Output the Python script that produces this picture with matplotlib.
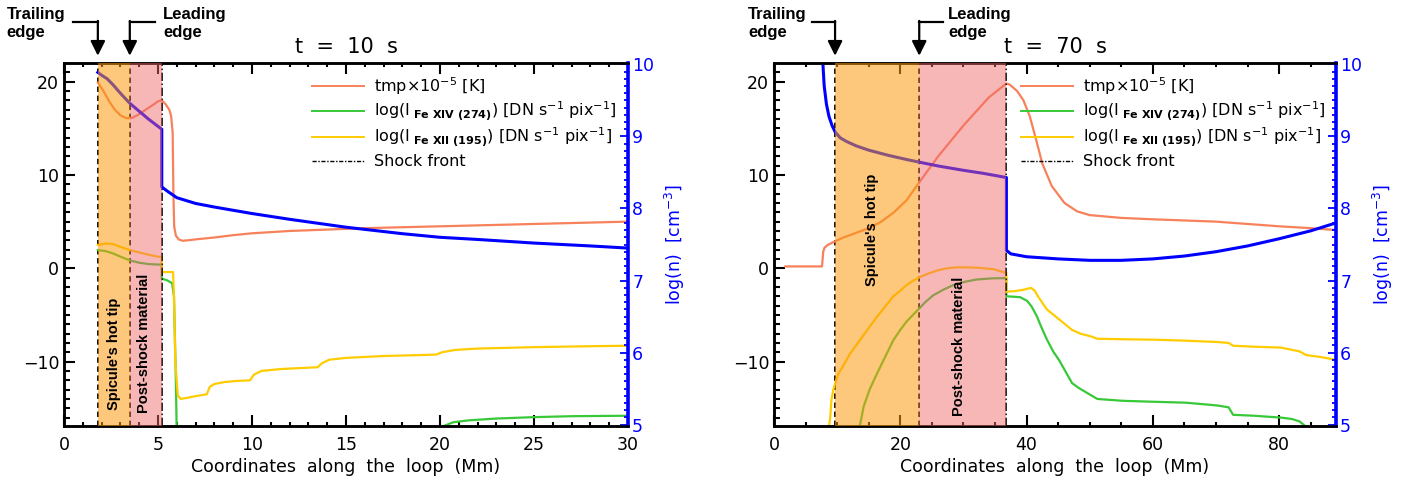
import numpy as np
import matplotlib
matplotlib.use("Agg")
import matplotlib.pyplot as plt
import matplotlib.transforms as mtransforms

plt.rcParams['font.family'] = ['DejaVu Sans']
plt.rcParams['mathtext.fontset'] = 'dejavusans'

# ---- t = 10 s ----
t10_tmp_x = [1.8, 2.1, 2.4, 2.7, 3.0, 3.3, 3.6, 3.9, 4.2, 4.5, 4.8, 5.0, 5.2, 5.4, 5.6, 5.7, 5.78, 5.82,
             5.86, 5.95, 6.1, 6.3, 6.6, 7.0, 8.0, 9.0, 10, 12, 14, 16, 18, 20, 22, 24, 26, 28, 30]
t10_tmp_y = [19.9, 19.0, 17.9, 17.0, 16.4, 16.1, 16.1, 16.4, 16.8, 17.2, 17.6, 17.9, 18.0, 17.6, 17.0, 16.3,
             14.5, 8.0, 4.5, 3.5, 3.1, 2.95, 3.0, 3.1, 3.3, 3.55, 3.75, 4.0, 4.15, 4.3, 4.4, 4.5, 4.6, 4.7,
             4.8, 4.9, 5.0]
t10_n_x = [1.8, 2.0, 2.3, 2.6, 3.0, 3.5, 4.0, 4.5, 5.0, 5.2, 5.2, 5.5, 6.0, 7.0, 8.0, 10, 12, 15, 18, 20,
           22, 25, 28, 30]
t10_n_y = [9.89, 9.85, 9.80, 9.72, 9.60, 9.46, 9.35, 9.24, 9.14, 9.10, 8.30, 8.24, 8.15, 8.07, 8.02, 7.93,
           7.85, 7.74, 7.65, 7.60, 7.57, 7.52, 7.48, 7.45]
t10_fe12_x = [1.8, 2.2, 2.6, 3.0, 3.5, 4.0, 4.5, 5.0, 5.2, 5.2, 5.5, 5.8, 5.85, 5.92, 6.05, 6.2, 6.5, 7.0,
              7.6, 7.75, 8.0, 8.5, 9.0, 9.9, 10.1, 10.5, 11.5, 13.5, 13.7, 14.1, 15, 17, 19.8, 20.1, 20.8,
              22, 25, 28, 30]
t10_fe12_y = [2.5, 2.65, 2.6, 2.3, 1.95, 1.7, 1.45, 1.25, 1.2, -0.4, -0.4, -0.4, -3.0, -10.0, -13.6, -14.0,
              -13.9, -13.7, -13.5, -12.7, -12.4, -12.2, -12.1, -12.0, -11.4, -11.0, -10.8, -10.6, -10.2,
              -9.8, -9.6, -9.4, -9.25, -9.0, -8.75, -8.6, -8.45, -8.35, -8.3]
t10_fe14_x = [1.8, 2.2, 2.6, 3.0, 3.5, 4.0, 4.5, 5.0, 5.2, 5.2, 5.5, 5.75, 5.85, 5.95, 6.0, np.nan,
              19.8, 20.2, 20.7, 21.5, 23, 25, 27, 30]
t10_fe14_y = [1.95, 1.85, 1.6, 1.25, 0.85, 0.6, 0.45, 0.4, 0.4, -1.1, -1.3, -1.6, -3.0, -12.0, -18.0, np.nan,
              -17.5, -16.9, -16.5, -16.3, -16.1, -15.95, -15.85, -15.8]
t10_edges = [1.8, 3.5, 5.2]   # trailing, leading, shock

# ---- t = 70 s ----
t70_tmp_x = [1.8, 7.6, 7.8, 8.0, 8.5, 9.7, 11, 13, 15, 17, 19, 21, 23.2, 26, 30, 34, 36.8, 37.3, 38.5,
             39.5, 40.5, 41.5, 42.5, 44, 46, 48, 50, 55, 60, 70, 80, 85, 89]
t70_tmp_y = [0.2, 0.2, 1.8, 2.2, 2.5, 2.9, 3.3, 3.8, 4.3, 5.0, 6.0, 7.3, 9.4, 12.0, 15.3, 18.3, 19.8, 19.7,
             19.0, 18.0, 16.3, 13.8, 11.2, 8.8, 7.0, 6.1, 5.7, 5.4, 5.25, 5.0, 4.5, 4.3, 4.1]
t70_n_x = [7.7, 7.75, 7.95, 8.3, 8.7, 9.2, 9.7, 10.5, 11.5, 13, 15, 18, 21, 23.2, 26, 30, 33, 36.8, 36.8,
           37.5, 40, 45, 50, 55, 60, 65, 70, 75, 80, 85, 89]
t70_n_y = [10.3, 10.0, 9.7, 9.45, 9.28, 9.15, 9.06, 8.98, 8.93, 8.87, 8.81, 8.74, 8.68, 8.64, 8.59, 8.53,
           8.49, 8.43, 7.42, 7.37, 7.33, 7.30, 7.28, 7.28, 7.30, 7.34, 7.40, 7.48, 7.58, 7.69, 7.80]
t70_fe12_x = [8.6, 8.9, 9.1, 9.4, 9.7, 10.2, 11.0, 12.0, 13.6, 15.0, 16.3, 17.6, 18.9, 20.0, 21.0, 22.0,
              23.0, 24.5, 26.0, 27.4, 29.0, 30.5, 32.5, 34.8, 36.8, 36.8, 38.1, 39.5, 40.7, 41.3, 41.8,
              43.2, 45.2, 47.2, 48.5, 50.2, 51.2, 55, 60.2, 65, 70.2, 72.0, 72.7, 76, 80.3, 83.2, 84.3,
              86.5, 88.9]
t70_fe12_y = [-17.5, -16.0, -14.1, -13.0, -12.3, -11.3, -10.4, -9.2, -7.7, -6.4, -5.2, -4.1, -3.0, -2.4,
              -1.8, -1.35, -0.97, -0.55, -0.2, 0.0, 0.1, 0.1, 0.05, -0.1, -0.5, -2.5, -2.45, -2.3, -2.1,
              -2.4, -3.0, -4.4, -5.5, -6.6, -7.0, -7.3, -7.55, -7.6, -7.65, -7.75, -7.9, -8.0, -8.3, -8.4,
              -8.5, -8.9, -9.3, -9.5, -9.8]
t70_fe14_x = [13.4, 13.8, 14.2, 15.2, 16.3, 17.6, 18.9, 20.0, 21.0, 22.0, 23.0, 24.0, 25.2, 26.8, 28.4,
              30.2, 32.1, 34.5, 36.8, 36.8, 38.0, 39.0, 40.1, 40.8, 41.6, 42.4, 43.2, 44.2, 45.2, 46.2,
              47.2, 48.2, 49.2, 50.2, 51.2, 55.2, 60, 65.2, 70.2, 72.0, 72.7, 76, 80.3, 82, 83.2, 84.3, 84.6]
t70_fe14_y = [-17.5, -16.2, -14.8, -12.9, -11.3, -9.5, -7.7, -6.6, -5.7, -5.0, -4.3, -3.6, -2.9, -2.3,
              -1.8, -1.45, -1.2, -1.08, -1.05, -3.0, -3.05, -3.1, -3.5, -4.1, -5.1, -6.4, -7.6, -8.9, -9.9,
              -11.1, -12.3, -12.8, -13.2, -13.6, -14.0, -14.2, -14.3, -14.4, -14.7, -14.9, -15.7, -15.8,
              -16.0, -16.15, -16.4, -17.0, -17.5]
t70_edges = [9.67, 23.0, 36.8]

legend_labels = [r'tmp$\times$10$^{-5}$ [K]',
                 r'log(I$_{\ \mathbf{Fe\ XIV\ (274)}}$) [DN s$^{-1}$ pix$^{-1}$]',
                 r'log(I$_{\ \mathbf{Fe\ XII\ (195)}}$) [DN s$^{-1}$ pix$^{-1}$]',
                 'Shock front']

c_tmp = '#f7815a'
c_fe14 = '#38c838'
c_fe12 = '#ffcc00'
c_n = '#0000ff'
shock_ls = (0, (5, 1.5, 1, 1.5))


def panel(ax, title, xlim, xmaj, xmin, tmp, n, fe12, fe14, edges,
          spic_pos, post_pos, arrows):
    ax2 = ax.twinx()
    ax.plot(tmp[0], tmp[1], color=c_tmp, lw=1.6, zorder=2)
    ax.plot(fe14[0], fe14[1], color=c_fe14, lw=1.6, zorder=2)
    ax.plot(fe12[0], fe12[1], color=c_fe12, lw=1.6, zorder=2)
    ax2.plot(n[0], n[1], color=c_n, lw=2.2, zorder=2)

    # edges / shock lines (under the shading)
    for xe in edges[:2]:
        ax.axvline(xe, color='k', ls=(0, (3, 2)), lw=1.3, zorder=1)
    ax2.axvline(edges[2], color='k', ls=shock_ls, lw=1.2, zorder=1)
    ax2.axvspan(edges[0], edges[1], color='#fc9a10', alpha=0.55, lw=0, zorder=3)
    ax2.axvspan(edges[1], edges[2], color='#f26a6a', alpha=0.48, lw=0, zorder=3)

    btrans = mtransforms.blended_transform_factory(ax2.transData, ax2.transAxes)
    ax2.text(spic_pos[0], spic_pos[1], "Spicule's hot tip", rotation=90, ha='center', va='center',
             transform=btrans, family='Liberation Sans', weight='bold', fontsize=10.5, zorder=5)
    ax2.text(post_pos[0], post_pos[1], "Post-shock material", rotation=90, ha='center', va='center',
             transform=btrans, family='Liberation Sans', weight='bold', fontsize=10.5, zorder=5)

    ax.set_xlim(*xlim)
    ax.set_ylim(-16.9, 22.0)
    ax2.set_ylim(4.98, 10.02)
    ax.set_xticks(np.arange(0, xlim[1] + 0.1, xmaj))
    ax.set_xticks(np.arange(0, xlim[1] + 0.1, xmin), minor=True)
    ax.set_yticks([-10, 0, 10, 20])
    ax.set_yticks(np.arange(-16, 22, 1), minor=True)
    ax2.set_yticks([5, 6, 7, 8, 9, 10])
    ax2.set_yticks(np.arange(5, 10.01, 0.1), minor=True)

    ax.tick_params(which='both', direction='in', top=True, right=False, width=1.5, labelsize=12.5)
    ax.tick_params(which='major', length=8)
    ax.tick_params(which='minor', length=4.5)
    ax.tick_params(axis='x', which='minor', length=3)
    ax.tick_params(axis='x', pad=7)
    ax2.tick_params(which='both', direction='in', colors=c_n, width=1.3, labelsize=12.5, pad=3)
    ax2.tick_params(which='major', length=5.5)
    ax2.tick_params(which='minor', length=3.2)
    for s in ['left', 'top', 'bottom']:
        ax.spines[s].set_linewidth(1.8)
        ax2.spines[s].set_linewidth(1.8)
    ax.spines['right'].set_visible(False)
    ax2.spines['right'].set_color(c_n)
    ax2.spines['right'].set_linewidth(2.6)

    ax.set_xlabel('Coordinates  along  the  loop  (Mm)', fontsize=12.5, labelpad=3)
    ax2.set_ylabel(r'log(n)  [cm$^{-3}$]', color=c_n, fontsize=12.5, labelpad=6)
    ax.set_title(title, fontsize=15, pad=7)

    # legend drawn by hand
    lx0, lx1, tx = 0.440, 0.532, 0.550
    rows = [0.936, 0.868, 0.797, 0.730]
    styles = [dict(color=c_tmp, lw=1.4), dict(color=c_fe14, lw=1.4), dict(color=c_fe12, lw=1.4),
              dict(color='k', lw=1.0, ls=(0, (3, 1.2, 1, 1.2)))]
    for lab, yy, st in zip(legend_labels, rows, styles):
        ax2.plot([lx0, lx1], [yy, yy], transform=ax2.transAxes, **st)
        ax2.text(tx, yy, lab, transform=ax2.transAxes, va='center', ha='left', fontsize=11.5)

    # trailing / leading edge arrows above the frame
    trans = mtransforms.blended_transform_factory(ax.transData, ax.transAxes)
    for (xe, xs, xt, lab) in arrows:
        ax.plot([xs, xe], [1.113, 1.113], transform=trans, color='k', lw=1.6, clip_on=False)
        ax.annotate('', xy=(xe, 1.02), xycoords=trans, xytext=(xe, 1.116), textcoords=trans,
                    arrowprops=dict(arrowstyle='-|>', color='k', lw=1.6, mutation_scale=22,
                                    shrinkA=0, shrinkB=0), annotation_clip=False)
        ax.text(xt, 1.11, lab, transform=trans, ha='left', va='center', family='Liberation Sans',
                weight='bold', fontsize=12, linespacing=1.25, clip_on=False)
    return ax2


fig = plt.figure(figsize=(14.22, 4.91), dpi=100)
ax_a = fig.add_axes([64 / 1422, 65 / 491, 564 / 1422, 363 / 491])
ax_b = fig.add_axes([774 / 1422, 65 / 491, 562 / 1422, 363 / 491])

panel(ax_a, 't  =  10  s', (0, 30), 5, 1, (t10_tmp_x, t10_tmp_y), (t10_n_x, t10_n_y),
      (t10_fe12_x, t10_fe12_y), (t10_fe14_x, t10_fe14_y), t10_edges,
      (2.65, 0.20), (4.27, 0.227),
      [(1.8, 0.48, -3.05, 'Trailing\nedge'), (3.5, 4.84, 5.27, 'Leading\nedge')])
panel(ax_b, 't  =  70  s', (0, 89), 20, 5, (t70_tmp_x, t70_tmp_y), (t70_n_x, t70_n_y),
      (t70_fe12_x, t70_fe12_y), (t70_fe14_x, t70_fe14_y), t70_edges,
      (15.5, 0.54), (29.3, 0.22),
      [(9.67, 6.0, -4.1, 'Trailing\nedge'), (23.0, 26.8, 27.6, 'Leading\nedge')])

fig.savefig('out.png', dpi=100)
